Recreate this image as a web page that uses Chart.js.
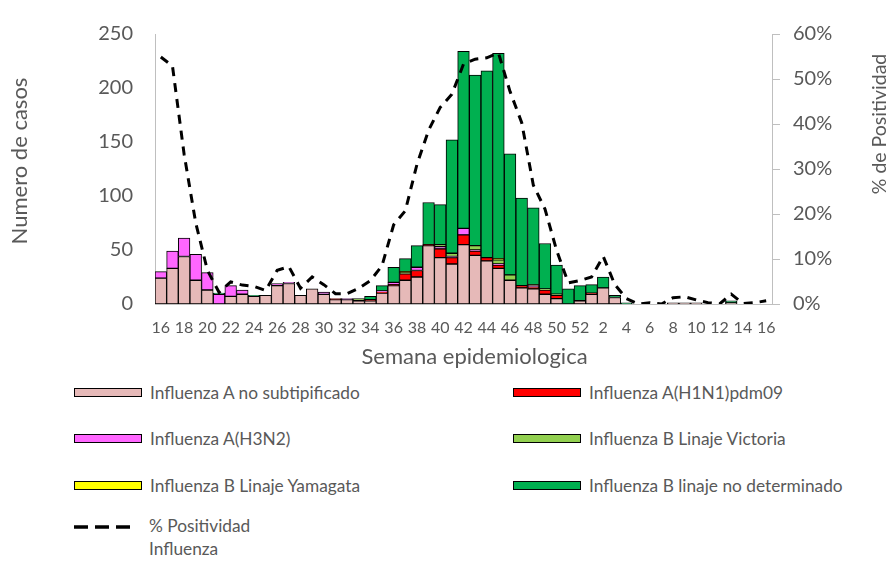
<!DOCTYPE html>
<html>
<head>
<meta charset="utf-8">
<script src="https://cdn.jsdelivr.net/npm/chart.js@4"></script>
<style>
  html, body { margin: 0; padding: 0; background: #ffffff; }
  #wrap { position: relative; width: 892px; height: 562px; overflow: hidden; font-family: Lato, "Open Sans", sans-serif; }
  #chart { position: absolute; left: 0; top: 0; }
  .lg-item { position: absolute; height: 20px; display: flex; align-items: center; color: #595959; font-size: 17.3px; white-space: nowrap; }
  .lg-box { width: 66px; height: 7px; border: 1px solid #000; margin-right: 8px; flex: none; }
  .lg-line { display: flex; align-items: flex-start; }
  .lg-line svg { flex: none; margin-right: 19px; margin-top: 3px; }
  .lg-line span { line-height: 23px; margin-top: -7px; }
</style>
</head>
<body>
<div id="wrap">
  <canvas id="chart" width="892" height="372"></canvas>
  <div id="legend"></div>
</div>
<script>
// Semanas epidemiológicas (16 a 52 y 1 a 16 del año siguiente)
const weeks = [16,17,18,19,20,21,22,23,24,25,26,27,28,29,30,31,32,33,34,35,36,37,38,39,40,41,42,43,44,45,46,47,48,49,50,51,52,
               1,2,3,4,5,6,7,8,9,10,11,12,13,14,15,16];

// Número de casos por tipo / subtipo
const aNoSubtipificado = [24,33,44,22,13,0,7,9,7,8,17,19,8,14,9,4,4,3,3,10,17,22,25,54,43,37,55,45,40,33,22,15,14,9,5,0,3,
                          9,15,6,0,0,0,0,1,1,1,0,0,1,0,0,0];
const aH1N1pdm09       = [0,0,0,0,0,0,0,0,0,0,0,0,0,0,0,1,0,0,1,1,1,6,6,1,8,6,9,4,3,3,0,2,2,4,3,0,0,
                          1,0,0,0,0,0,0,0,0,0,0,0,0,0,0,0];
const aH3N2            = [6,16,17,24,16,9,10,4,0,0,2,1,0,0,2,0,1,0,0,1,2,0,3,0,2,1,6,1,0,1,0,0,1,0,0,0,0,
                          0,0,0,0,0,0,0,0,0,0,0,0,0,0,0,0];
const bVictoria        = [0,0,0,0,0,0,0,0,0,0,0,0,0,0,0,0,0,2,0,0,0,1,0,0,2,3,0,4,0,4,5,0,1,1,1,0,0,
                          0,0,0,0,0,0,0,0,0,0,0,0,0,0,0,0];
const bYamagata        = [0,0,0,0,0,0,0,0,0,0,0,0,0,0,0,0,0,0,0,0,0,1,0,0,0,0,0,0,0,1,0,0,0,0,0,0,0,
                          0,0,0,0,0,0,0,0,0,0,0,0,0,0,0,0];
const bNoDeterminado   = [0,0,0,0,0,1,0,0,1,0,0,0,0,0,0,0,0,0,3,5,14,12,20,39,37,105,164,158,173,190,112,81,71,42,27,14,14,
                          8,10,2,1,0,0,0,0,0,0,0,0,2,0,0,0];

// % de positividad para influenza
const positividad = [54.9,52.9,33.3,18,7.5,2.6,4.9,4.2,3.9,3,7.5,8.3,3.5,6,4.3,2.3,2.3,3.5,5.2,8.5,17.6,20.7,31,38.6,43.7,46.6,53.3,54.4,54.7,55.8,47.2,40.3,26.4,21.1,11.9,4.7,5.2,
                     6,10.6,4.3,1.2,0,0.3,0,1.4,1.6,0.9,0.3,0,2.2,0.1,0.3,0.7];

const seriesNames = [
  'Influenza A no subtipificado',
  'Influenza A(H1N1)pdm09',
  'Influenza A(H3N2)',
  'Influenza B Linaje Victoria',
  'Influenza B Linaje Yamagata',
  'Influenza B linaje no determinado'
];
const seriesValues = [aNoSubtipificado, aH1N1pdm09, aH3N2, bVictoria, bYamagata, bNoDeterminado];
const seriesColors = ['#E6B9B8', '#FF0000', '#FF66FF', '#92D050', '#FFFF00', '#00B050'];
const lineName = ['% Positividad', 'Influenza'];

const casesTicks = [0, 50, 100, 150, 200, 250];
const pctTicks = [0, 10, 20, 30, 40, 50, 60];

const TEXT = '#595959';
const AXIS = '#BFBFBF';
const FONT = 'Lato';

const barSets = seriesValues.map((vals, i) => ({
  type: 'bar',
  label: seriesNames[i],
  data: vals.map(v => (v === 0 ? null : v)),
  backgroundColor: seriesColors[i],
  borderColor: '#000000',
  borderWidth: 1,
  borderSkipped: false,
  yAxisID: 'y',
  stack: 'casos',
  order: 2,
  barPercentage: 1,
  categoryPercentage: 1
}));

const lineSet = {
  type: 'line',
  label: lineName.join(' '),
  data: positividad,
  yAxisID: 'y1',
  borderColor: '#000000',
  borderWidth: 3,
  borderDash: [9, 7],
  pointRadius: 0,
  tension: 0,
  fill: false,
  order: 1
};

// Axis titles drawn on the canvas (the right one reads bottom-to-top)
const axisTitles = {
  id: 'axisTitles',
  afterDraw(chart) {
    const { ctx, chartArea } = chart;
    ctx.save();
    ctx.fillStyle = TEXT;
    ctx.textAlign = 'center';
    ctx.textBaseline = 'middle';
    ctx.font = '22px ' + FONT;
    ctx.fillText('Semana epidemiologica', (chartArea.left + chartArea.right) / 2 + 11, chartArea.bottom + 53);

    ctx.translate(20, (chartArea.top + chartArea.bottom) / 2 - 8);
    ctx.rotate(-Math.PI / 2);
    ctx.fillText('Numero de casos', 0, 0);
    ctx.restore();

    ctx.save();
    ctx.fillStyle = TEXT;
    ctx.textAlign = 'center';
    ctx.textBaseline = 'middle';
    ctx.font = '19.5px ' + FONT;
    ctx.translate(880, chartArea.top + 90);
    ctx.rotate(-Math.PI / 2);
    ctx.fillText('% de Positividad', 0, 0);
    ctx.restore();
  }
};

new Chart(document.getElementById('chart'), {
  data: { labels: weeks, datasets: [...barSets, lineSet] },
  options: {
    responsive: false,
    animation: false,
    layout: { padding: { top: 18, left: 0, right: 0, bottom: 0 } },
    plugins: { legend: { display: false }, tooltip: { enabled: false } },
    scales: {
      x: {
        stacked: true,
        offset: true,
        grid: { display: false, drawTicks: false },
        border: { display: true, color: AXIS, width: 1 },
        ticks: {
          autoSkip: false,
          maxRotation: 0,
          minRotation: 0,
          padding: 14,
          color: TEXT,
          font: { family: FONT, size: 16 },
          callback: (v, i) => (i % 2 === 0 ? String(weeks[i]) : '')
        },
        afterFit: s => { s.height = 372 - 304; }
      },
      y: {
        position: 'left',
        stacked: true,
        min: 0,
        max: 250,
        afterBuildTicks: s => { s.ticks = casesTicks.map(v => ({ value: v })); },
        grid: { display: false, drawTicks: false },
        border: { display: true, color: AXIS, width: 1 },
        ticks: { padding: 22, color: TEXT, font: { family: FONT, size: 20 } },
        afterFit: s => { s.width = 155; }
      },
      y1: {
        position: 'right',
        min: 0,
        max: 60,
        afterBuildTicks: s => { s.ticks = pctTicks.map(v => ({ value: v })); },
        grid: { display: true, drawOnChartArea: false, drawTicks: true, tickLength: 8, color: AXIS },
        border: { display: true, color: AXIS, width: 1 },
        ticks: { padding: 13, color: TEXT, font: { family: FONT, size: 20 }, callback: v => v + '%' },
        afterFit: s => { s.width = 892 - 772; }
      }
    }
  },
  plugins: [axisTitles]
});

// Legend below the chart, two columns
const legend = document.getElementById('legend');
const colX = [74, 513];
const rowY = [392.5, 438.5, 485];
seriesNames.forEach((name, i) => {
  const item = document.createElement('div');
  item.className = 'lg-item';
  item.style.left = colX[i % 2] + 'px';
  item.style.top = (rowY[Math.floor(i / 2)] - 10) + 'px';
  const box = document.createElement('span');
  box.className = 'lg-box';
  box.style.background = seriesColors[i];
  const txt = document.createElement('span');
  txt.textContent = name;
  item.appendChild(box);
  item.appendChild(txt);
  legend.appendChild(item);
});
const lineItem = document.createElement('div');
lineItem.className = 'lg-item lg-line';
lineItem.style.left = colX[0] + 'px';
lineItem.style.top = '521px';
lineItem.style.height = 'auto';
lineItem.innerHTML = '<svg width="56" height="6"><line x1="0" y1="3" x2="56" y2="3" stroke="#000" stroke-width="3.5" stroke-dasharray="14 7"/></svg>';
const lineTxt = document.createElement('span');
lineTxt.innerHTML = lineName.map(t => t.replace(/&/g, '&amp;')).join('<br>');
lineItem.appendChild(lineTxt);
legend.appendChild(lineItem);
</script>
</body>
</html>
